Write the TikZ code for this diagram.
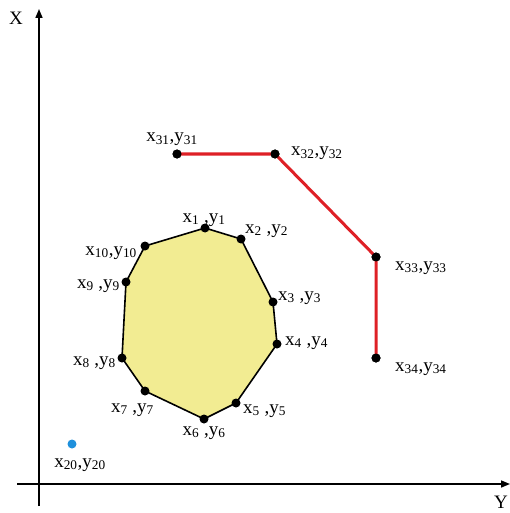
\documentclass[tikz,border=0pt]{standalone}
\usepackage{fontspec}
\setmainfont{Liberation Serif}
\usetikzlibrary{arrows.meta}
\definecolor{polyfill}{RGB}{242,236,146}
\definecolor{redline}{RGB}{222,32,38}
\definecolor{bluedot}{RGB}{30,144,220}
\newcommand\lbl[2]{x\textsubscript{#1},y\textsubscript{#2}}
\newcommand\lbs[2]{x\textsubscript{#1} ,y\textsubscript{#2}}
\begin{document}
\begin{tikzpicture}[x=1pt,y=-1pt,
  axis/.style={line width=1.6pt,-{Triangle[length=9pt,width=7pt]}},
  vtx/.style={circle,fill=black,inner sep=0pt,minimum size=9pt},
  bdot/.style={circle,fill=bluedot,inner sep=0pt,minimum size=9pt},
  lab/.style={font=\fontsize{19}{22}\selectfont,inner sep=0pt},
  poly/.style={draw=black,line width=1.6pt,fill=polyfill},
  redpath/.style={draw=redline,line width=3pt}]
\useasboundingbox (0,0) rectangle (510,513);
% axes
\coordinate (oy0) at (39,506);
\coordinate (oy1) at (39,9);
\coordinate (ox0) at (17,484);
\coordinate (ox1) at (510,484);
\draw[axis] (oy0) -- (oy1);
\draw[axis] (ox0) -- (ox1);
\node[lab,anchor=base] (lX) at (16,25) {X};
\node[lab,anchor=base] (lY) at (501,508) {Y};
% polygon vertices
\coordinate (p1) at (205,228);
\coordinate (p2) at (241,239);
\coordinate (p3) at (273,302);
\coordinate (p4) at (277,344);
\coordinate (p5) at (236,403);
\coordinate (p6) at (204,419);
\coordinate (p7) at (145,391);
\coordinate (p8) at (122,358);
\coordinate (p9) at (126,282);
\coordinate (p10) at (145,246);
\draw[poly] (p1)--(p2)--(p3)--(p4)--(p5)--(p6)--(p7)--(p8)--(p9)--(p10)--cycle;
\foreach \p in {1,...,10} \node[vtx] (v\p) at (p\p) {};
% red path
\node[vtx] (r31) at (177,154) {};
\node[vtx] (r32) at (275,154) {};
\node[vtx] (r33) at (376,257) {};
\node[vtx] (r34) at (376,358) {};
\draw[redpath] (r31.center)--(r32.center)--(r33.center)--(r34.center);
\foreach \n in {31,32,33,34} \node[vtx] at (r\n) {};
% blue point
\node[bdot] (b20) at (72,444) {};
% labels
\node[lab,anchor=base] (l31) at (172,142) {\lbl{31}{31}};
\node[lab,anchor=base west] (l32) at (291,156) {\lbl{32}{32}};
\node[lab,anchor=base west] (l33) at (395,270) {\lbl{33}{33}};
\node[lab,anchor=base west] (l34) at (395,371) {\lbl{34}{34}};
\node[lab,anchor=base] (l1) at (204,222) {\lbs{1}{1}};
\node[lab,anchor=base west] (l2) at (245,233) {\lbs{2}{2}};
\node[lab,anchor=base west] (l3) at (278,300) {\lbs{3}{3}};
\node[lab,anchor=base west] (l4) at (285,345) {\lbs{4}{4}};
\node[lab,anchor=base west] (l5) at (243,413) {\lbs{5}{5}};
\node[lab,anchor=base] (l6) at (204,435) {\lbs{6}{6}};
\node[lab,anchor=base east] (l7) at (154,412) {\lbs{7}{7}};
\node[lab,anchor=base east] (l8) at (116,365) {\lbs{8}{8}};
\node[lab,anchor=base east] (l9) at (120,288) {\lbs{9}{9}};
\node[lab,anchor=base east] (l10) at (137,255) {\lbl{10}{10}};
\node[lab,anchor=base] (l20) at (80,467) {\lbl{20}{20}};
\end{tikzpicture}
\end{document}
